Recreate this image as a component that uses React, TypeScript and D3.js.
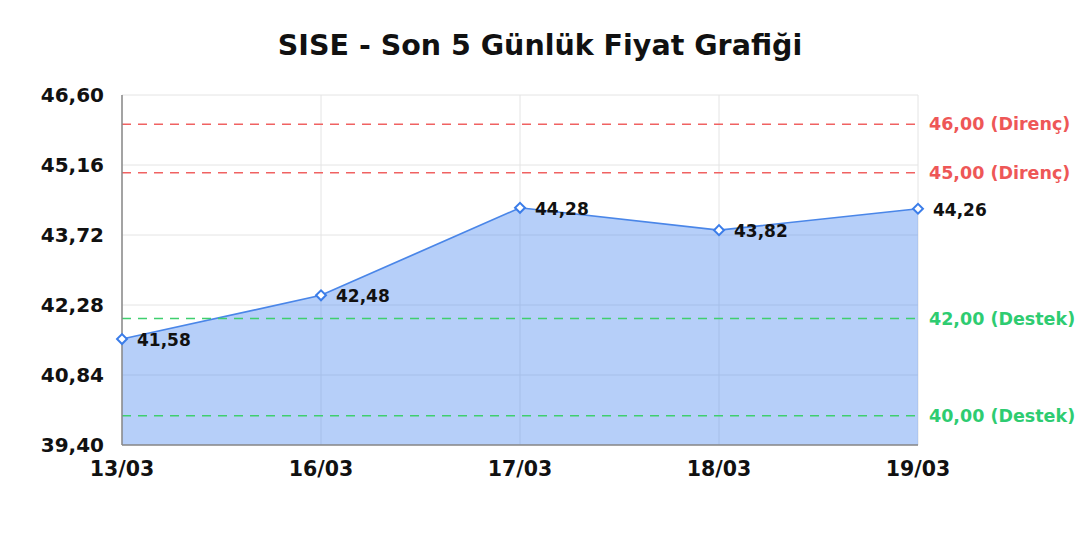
import * as d3 from "d3";

const TITLE = "SISE - Son 5 Günlük Fiyat Grafiği";
const DATES = ["13/03", "16/03", "17/03", "18/03", "19/03"];
const PRICES = [41.58, 42.48, 44.28, 43.82, 44.26];
const Y_TICKS = [39.4, 40.84, 42.28, 43.72, 45.16, 46.6];
const RESISTANCE = [46, 45];
const SUPPORT = [42, 40];

const W = 1080;
const H = 540;
const MARGIN = { top: 95, right: 162, bottom: 95, left: 122 };
const FONT = "DejaVu Sans, sans-serif";

const fmt = (v: number) => v.toFixed(2).replace(".", ",");

export default function App() {
  const innerW = W - MARGIN.left - MARGIN.right;
  const innerH = H - MARGIN.top - MARGIN.bottom;

  const x = d3.scalePoint<string>().domain(DATES).range([0, innerW]);
  const y = d3.scaleLinear().domain([39.4, 46.6]).range([innerH, 0]);

  const pts = DATES.map((d, i) => ({ d, v: PRICES[i] }));
  const line = d3.line<{ d: string; v: number }>()
    .x((p) => x(p.d) ?? 0)
    .y((p) => y(p.v));
  const area = d3.area<{ d: string; v: number }>()
    .x((p) => x(p.d) ?? 0)
    .y0(innerH)
    .y1((p) => y(p.v));

  const refLines = [
    ...RESISTANCE.map((v) => ({ v, kind: "Direnç", color: "#f06262", text: "#ee5757" })),
    ...SUPPORT.map((v) => ({ v, kind: "Destek", color: "#3fcf6e", text: "#2ecc71" })),
  ];

  return (
    <svg width={W} height={H} style={{ position: "absolute", left: 0, top: 0, background: "#fff" }}>
      <text x={540} y={55} textAnchor="middle" fontFamily={FONT} fontWeight="bold" fontSize={28.5} fill="#111">
        {TITLE}
      </text>
      <g transform={`translate(${MARGIN.left},${MARGIN.top})`}>
        {/* grid */}
        {Y_TICKS.map((t) => (
          <line key={`gy${t}`} x1={0} x2={innerW} y1={y(t)} y2={y(t)} stroke="#e4e4e4" strokeWidth={1} />
        ))}
        {DATES.map((d) => (
          <line key={`gx${d}`} x1={x(d)} x2={x(d)} y1={0} y2={innerH} stroke="#e4e4e4" strokeWidth={1} />
        ))}

        {/* area + line */}
        <path d={area(pts) ?? ""} fill="rgba(80,140,240,0.42)" />
        <path d={line(pts) ?? ""} fill="none" stroke="#4a86e8" strokeWidth={1.7} />

        {/* reference lines */}
        {refLines.map((r) => (
          <g key={`r${r.v}`}>
            <line x1={0} x2={innerW} y1={y(r.v)} y2={y(r.v)} stroke={r.color} strokeWidth={1.5} strokeDasharray="9,7" />
            <text x={innerW + 11} y={y(r.v)} dy="0.35em" fontFamily={FONT} fontWeight="bold" fontSize={17.5} fill={r.text}>
              {`${fmt(r.v)} (${r.kind})`}
            </text>
          </g>
        ))}

        {/* axes */}
        <line x1={0} x2={0} y1={0} y2={innerH} stroke="#888" strokeWidth={1.5} />
        <line x1={0} x2={innerW} y1={innerH} y2={innerH} stroke="#888" strokeWidth={1.5} />

        {/* markers + labels */}
        {pts.map((p) => {
          const cx = x(p.d) ?? 0;
          const cy = y(p.v);
          return (
            <g key={`m${p.d}`}>
              <rect x={cx - 3.5} y={cy - 3.5} width={7} height={7} fill="#fff" stroke="#3b7de9" strokeWidth={2}
                transform={`rotate(45 ${cx} ${cy})`} />
              <text x={cx + 15} y={cy} dy="0.42em" fontFamily={FONT} fontWeight="bold" fontSize={17} fill="#111">
                {fmt(p.v)}
              </text>
            </g>
          );
        })}

        {/* y tick labels */}
        {Y_TICKS.map((t) => (
          <text key={`yl${t}`} x={-18} y={y(t)} dy="0.35em" textAnchor="end" fontFamily={FONT} fontWeight="bold" fontSize={20} fill="#111">
            {fmt(t)}
          </text>
        ))}
        {/* x tick labels */}
        {DATES.map((d) => (
          <text key={`xl${d}`} x={x(d)} y={innerH + 31} textAnchor="middle" fontFamily={FONT} fontWeight="bold" fontSize={20.5} fill="#111">
            {d}
          </text>
        ))}
      </g>
    </svg>
  );
}
